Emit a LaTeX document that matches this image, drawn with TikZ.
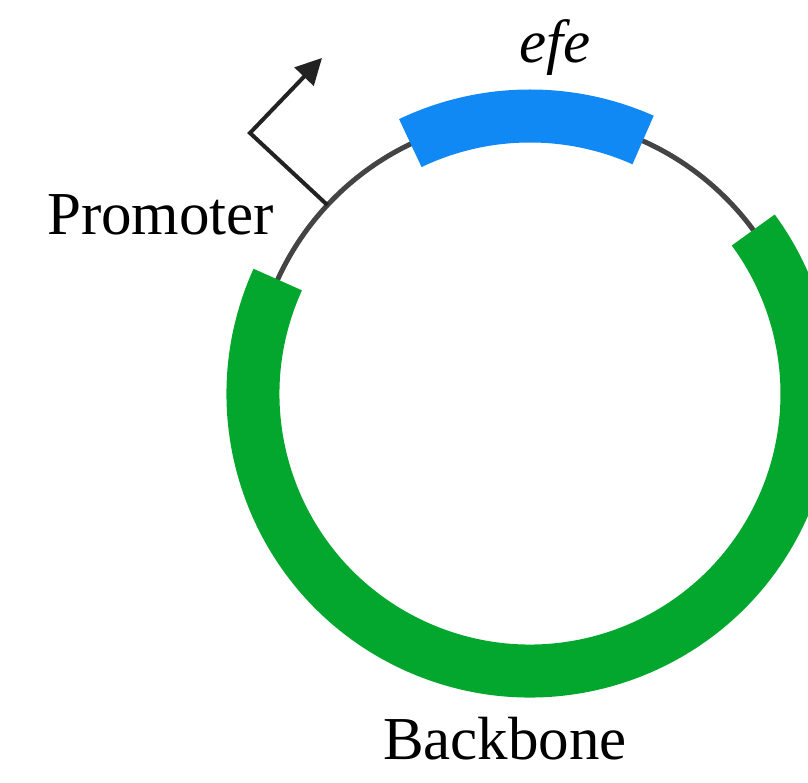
\documentclass[tikz,border=0pt]{standalone}
\usepackage{fontspec}
\setmainfont{Liberation Serif}
\usetikzlibrary{arrows.meta}
\definecolor{bbgreen}{RGB}{4,167,46}
\definecolor{efeblue}{RGB}{16,137,245}
\definecolor{dnagray}{RGB}{68,68,68}
\definecolor{arrowdark}{RGB}{34,34,34}
\tikzset{
  dna/.style={draw=dnagray, line width=5pt},
  feature/.style={line width=53pt, line cap=butt},
  lbl/.style={font=\fontsize{61}{70}\selectfont, inner sep=0pt},
  promarrow/.style={draw=arrowdark, line width=4pt, line join=miter, -{Triangle[length=26pt,width=26pt]}}
}
\begin{document}
\begin{tikzpicture}[x=1pt,y=1pt]
\useasboundingbox (0,0) rectangle (808,783);
\coordinate (c) at (530,389);
\draw[dna] (c) circle (277);
\draw[feature, draw=efeblue] ([shift={(66:278)}]c) arc[start angle=66, end angle=115.5, radius=278];
\draw[feature, draw=bbgreen] ([shift={(155.6:277)}]c) arc[start angle=155.6, end angle=396.3, radius=277];
\coordinate (pstart) at ([shift={(137:277)}]c);
\coordinate (pcorner) at (250,650);
\coordinate (ptip) at (322,725);
\draw[promarrow] (pstart) -- (pcorner) -- (ptip);
\node[lbl, anchor=base west] (prom) at (47,548) {Promoter};
\node[lbl, anchor=base] (efe) at (555,720) {\itshape efe};
\node[lbl, anchor=base] (bb) at (505,23) {Backbone};
\end{tikzpicture}
\end{document}
